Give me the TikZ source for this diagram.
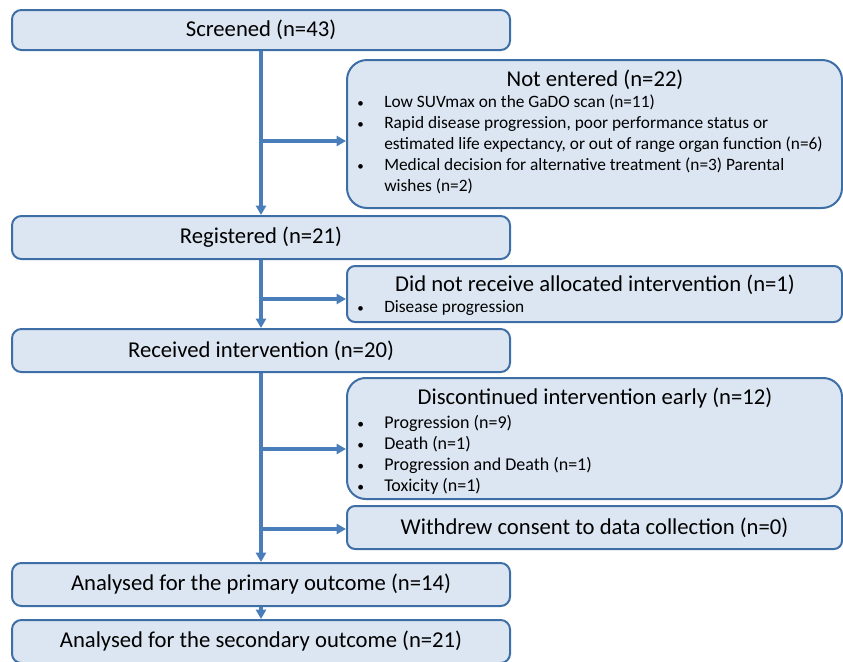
\documentclass[tikz,border=0pt]{standalone}
\usepackage{fontspec}
\setmainfont{Carlito}
\usetikzlibrary{arrows.meta,positioning}
\definecolor{boxfill}{HTML}{DCE6F2}
\definecolor{boxline}{HTML}{3E6EA6}
\definecolor{flow}{HTML}{4A7EBB}

\newcommand{\blt}{\makebox[20.25pt][l]{\scalebox{0.75}{\textbullet}}}
\newcommand{\cnt}{\hspace*{20.25pt}}

\begin{document}
\begin{tikzpicture}[x=0.75pt,y=-0.75pt,
  mainbox/.style={draw=boxline,fill=boxfill,line width=1.5pt,rounded corners=7pt,
    minimum width=373.5pt,minimum height=32.25pt,inner sep=0pt,font=\fontsize{17}{20}\selectfont},
  sidebox/.style={draw=boxline,fill=boxfill,line width=1.5pt,rounded corners=6pt,
    minimum width=371.25pt,inner sep=0pt,font=\fontsize{17}{20}\selectfont},
  title/.style={font=\fontsize{17}{20}\selectfont,inner sep=0pt},
  items/.style={font=\fontsize{13}{15.75}\selectfont,align=left,anchor=north west,inner sep=0pt},
  arr/.style={draw=flow,line width=2.6pt,-{Triangle[length=7pt,width=7.5pt]}}]
  \clip (0,0) rectangle (843,661);

  % main column
  \node[mainbox,minimum height=30pt] (scr) at (261,30) {Screened (n=43)};
  \node[mainbox] (reg) at (261,237.5) {Registered (n=21)};
  \node[mainbox] (rec) at (261,350.5) {Received intervention (n=20)};
  \node[mainbox] (prim) at (261,584.5) {Analysed for the primary outcome (n=14)};
  \node[mainbox] (sec) at (261,641.5) {Analysed for the secondary outcome (n=21)};

  % not entered
  \node[sidebox,rounded corners=15pt,minimum height=111pt] (notent) at (594.5,134) {};
  \node[title] (notentT) at (595,80) {Not entered (n=22)};
  \node[items] (notentL) at (357,95) {%
    \blt Low SUVmax on the GaDO scan (n=11)\\
    \blt Rapid disease progression, poor performance status or\\
    \cnt estimated life expectancy, or out of range organ function (n=6)\\
    \blt Medical decision for alternative treatment (n=3) Parental\\
    \cnt wishes (n=2)};

  % did not receive
  \node[sidebox,minimum height=42pt] (norec) at (594.5,294) {};
  \node[title] (norecT) at (595,284.5) {Did not receive allocated intervention (n=1)};
  \node[items] (norecL) at (357,300) {\blt Disease progression};

  % discontinued
  \node[sidebox,rounded corners=14pt,minimum height=90.75pt] (disc) at (594.5,438.5) {};
  \node[title] (discT) at (595,398) {Discontinued intervention early (n=12)};
  \node[items,font=\fontsize{13.5}{15.75}\selectfont] (discL) at (357,415) {%
    \blt Progression (n=9)\\
    \blt Death (n=1)\\
    \blt Progression and Death (n=1)\\
    \blt Toxicity (n=1)};

  % withdrew
  \node[sidebox,minimum height=32.25pt] (wdr) at (594.5,527.5) {Withdrew consent to data collection (n=0)};

  % flow
  \coordinate (b1) at (261,141);
  \coordinate (b2) at (261,299);
  \coordinate (b3) at (261,449);
  \coordinate (b4) at (261,529);
  \draw[arr] (scr.south) -- (reg.north);
  \draw[arr] (reg.south) -- (rec.north);
  \draw[arr] (rec.south) -- (prim.north);
  \draw[arr] (prim.south) -- (sec.north);
  \draw[arr] (b1) -- (b1 -| notent.west);
  \draw[arr] (b2) -- (b2 -| norec.west);
  \draw[arr] (b3) -- (b3 -| disc.west);
  \draw[arr] (b4) -- (b4 -| wdr.west);
\end{tikzpicture}
\end{document}
